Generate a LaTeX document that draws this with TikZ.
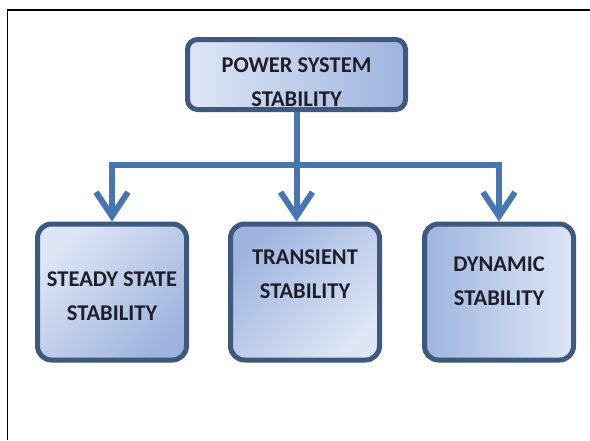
\documentclass[tikz,border=0pt]{standalone}
\usepackage{fontspec}
\setmainfont{Carlito}
\usetikzlibrary{shapes,arrows.meta,positioning}

\definecolor{boxline}{RGB}{62,88,126}
\definecolor{boxlight}{RGB}{222,230,246}
\definecolor{boxdark}{RGB}{158,180,222}
\definecolor{flow}{RGB}{72,118,178}
\definecolor{textdark}{RGB}{30,30,40}

\begin{document}
\begin{tikzpicture}[
    x=1pt, y=1pt,
    node distance=217.5pt,
    category/.style={rectangle, draw=boxline, line width=5pt, rounded corners=14pt, minimum width=149pt, minimum height=136pt, inner sep=0pt, align=center, text=textdark, font=\bfseries\fontsize{22.5}{34}\selectfont},
    line/.style={draw=flow, line width=6pt},
    arrow/.style={line, -{Straight Barb[length=24pt, width=32pt]}},
    frame/.style={draw=black, line width=1.5pt}
]
\useasboundingbox (0,0) rectangle (590,-440);

% Frame
\draw [frame] (7.5,-440) |- (590,-10);

% Root
\node [category, minimum width=218pt, minimum height=70pt, rounded corners=10pt, top color=boxlight, bottom color=boxdark, shading angle=90, text height=65pt] (root) at (296.5,-74.5) {POWER SYSTEM\\STABILITY};

% Kinds of stability
\node [category, below of=root, xshift=-184.5pt, top color=boxlight, bottom color=boxdark, shading angle=45, text height=57pt] (steady) {STEADY STATE\\STABILITY};
\node [category, below of=root, xshift=8.5pt, top color=boxdark, bottom color=boxlight, shading angle=45, text depth=36pt] (transient) {TRANSIENT\\STABILITY};
\node [category, below of=root, xshift=202.5pt, top color=boxdark, bottom color=boxlight, shading angle=90, text depth=22pt] (dynamic) {DYNAMIC\\STABILITY};

% Branch point
\coordinate [below of=root, yshift=127pt] (split);

% Connections
\path [line] (root) -- (split);
\path [arrow] (split) -| (steady);
\path [arrow] (split) -- (split |- transient.north);
\path [arrow] (split) -| (dynamic);

\end{tikzpicture}
\end{document}
